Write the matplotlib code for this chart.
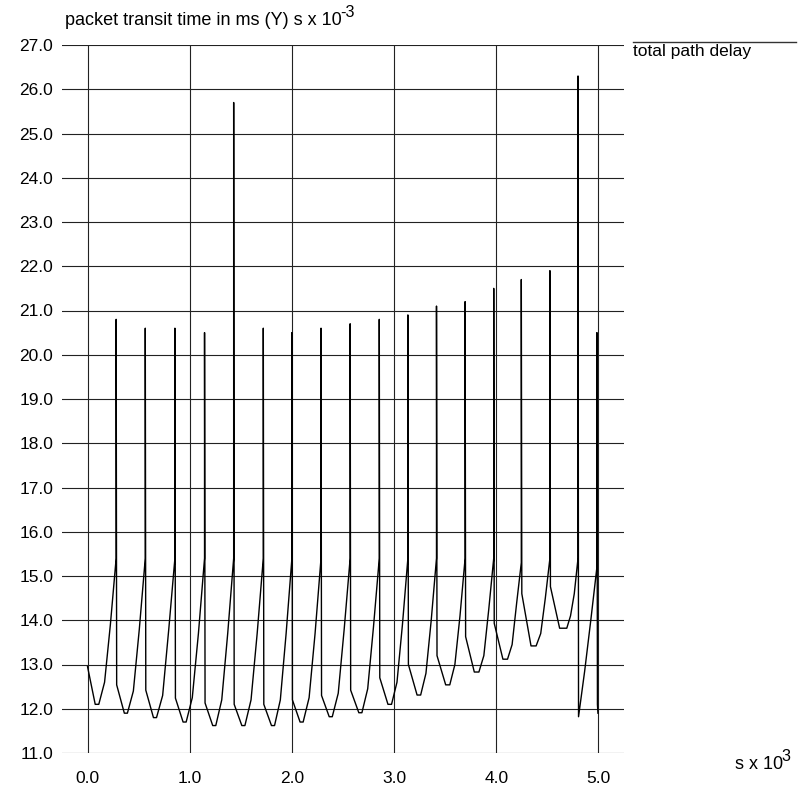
import matplotlib
matplotlib.use("Agg")
import matplotlib.pyplot as plt
import numpy as np

plt.rcParams["font.family"] = ["Liberation Sans", "DejaVu Sans"]

# ---- data (time in s x 10^3, delay in ms) ----
spike_t = [0.28, 0.565, 0.855, 1.145, 1.43, 1.72, 2.0, 2.285, 2.57, 2.855,
           3.135, 3.415, 3.695, 3.975, 4.245, 4.525, 4.80, 4.985]
spike_peak = [20.8, 20.6, 20.6, 20.5, 25.7, 20.6, 20.5, 20.6, 20.7, 20.8,
              20.9, 21.1, 21.2, 21.5, 21.7, 21.9, 26.3, 20.5]

# one ramp per segment: drop value, floor, two points on the way up, value before spike
seg_start = [12.95, 12.54, 12.42, 12.24, 12.13, 12.1, 12.1, 12.2, 12.3, 12.42,
             12.7, 13.0, 13.2, 13.63, 13.93, 14.6, 14.76, 11.82]
seg_floor = [12.1, 11.9, 11.8, 11.7, 11.62, 11.62, 11.62, 11.7, 11.82, 11.91,
             12.1, 12.31, 12.54, 12.83, 13.12, 13.42, 13.82, 11.82]
floor_a = [0.075, 0.36, 0.645, 0.935, 1.225, 1.51, 1.80, 2.08, 2.365, 2.655,
           2.94, 3.225, 3.505, 3.785, 4.065, 4.34, 4.62, 4.805]
floor_b = [0.11, 0.39, 0.675, 0.965, 1.255, 1.54, 1.83, 2.11, 2.395, 2.685,
           2.975, 3.26, 3.545, 3.83, 4.11, 4.39, 4.69, 4.805]
seg_rise1 = [12.6, 12.4, 12.3, 12.25, 12.2, 12.2, 12.2, 12.25, 12.35, 12.45,
             12.6, 12.8, 13.0, 13.2, 13.45, 13.7, 14.1, 12.85]
seg_rise2 = [13.9, 13.8, 13.8, 13.7, 13.7, 13.7, 13.7, 13.7, 13.8, 13.85,
             13.9, 14.0, 14.1, 14.25, 14.4, 14.5, 14.6, 14.0]
seg_end = [15.4, 15.4, 15.4, 15.4, 15.4, 15.4, 15.4, 15.4, 15.4, 15.4,
           15.4, 15.4, 15.4, 15.4, 15.3, 15.4, 15.4, 15.2]
tail_t = [4.99, 4.995]
tail_v = [12.1, 11.9]

# ---- build the trace ----
xs, ys = [], []
for k in range(len(spike_t)):
    t0 = 0.0 if k == 0 else spike_t[k - 1] + 0.005
    t1 = spike_t[k]
    fb = floor_b[k]
    xs += [t0, floor_a[k], fb, fb + (t1 - fb) / 3, fb + 2 * (t1 - fb) / 3, t1, t1]
    ys += [seg_start[k], seg_floor[k], seg_floor[k], seg_rise1[k], seg_rise2[k],
           seg_end[k], spike_peak[k]]
xs += tail_t
ys += tail_v

W, H = 801, 788
FS = 12.5
fig = plt.figure(figsize=(W / 100, H / 100), dpi=100)
ax = fig.add_axes([62 / W, 1 - 753 / H, (624 - 62) / W, (753 - 45) / H])
ax.set_xlim(-0.25, 5.25)
ax.set_ylim(11.0, 27.0)
ax.set_xticks(np.arange(0, 5.01, 1.0))
ax.set_yticks(np.arange(11, 27.01, 1.0))
ax.set_xticklabels([f"{v:.1f}" for v in np.arange(0, 5.01, 1.0)], fontsize=FS)
ax.set_yticklabels([f"{v:.1f}" for v in np.arange(11, 27.01, 1.0)], fontsize=FS)
ax.tick_params(length=0)
ax.tick_params(axis="y", pad=6.3)
ax.tick_params(axis="x", pad=13)
for s in ax.spines.values():
    s.set_visible(False)
ax.grid(True, color="#222222", lw=0.8)
ax.set_axisbelow(True)

ax.plot(xs, ys, color="black", lw=1.0, zorder=3)


# ---- texts (superscripts drawn as separate, slightly smaller text) ----
def sup_text(x, y, base, sup, fs):
    t = fig.text(x / W, 1 - y / H, base, ha="left", va="baseline", fontsize=fs)
    fig.canvas.draw()
    bb = t.get_window_extent()
    fig.text((bb.x1 - 1.5) / W, 1 - (y - 8) / H, sup, ha="left", va="baseline",
             fontsize=fs * 0.9)


sup_text(65, 25, "packet transit time in ms (Y) s x 10", "-3", 13)
sup_text(735, 769, "s x 10", "3", 13)
fig.add_artist(plt.Line2D([633 / W, 796 / W], [1 - 42 / H, 1 - 42 / H],
                          color="#333333", lw=1.0, transform=fig.transFigure))
fig.text(633 / W, 1 - 56 / H, "total path delay", ha="left", va="baseline", fontsize=FS)

fig.savefig("out.png", dpi=100, facecolor="white")
